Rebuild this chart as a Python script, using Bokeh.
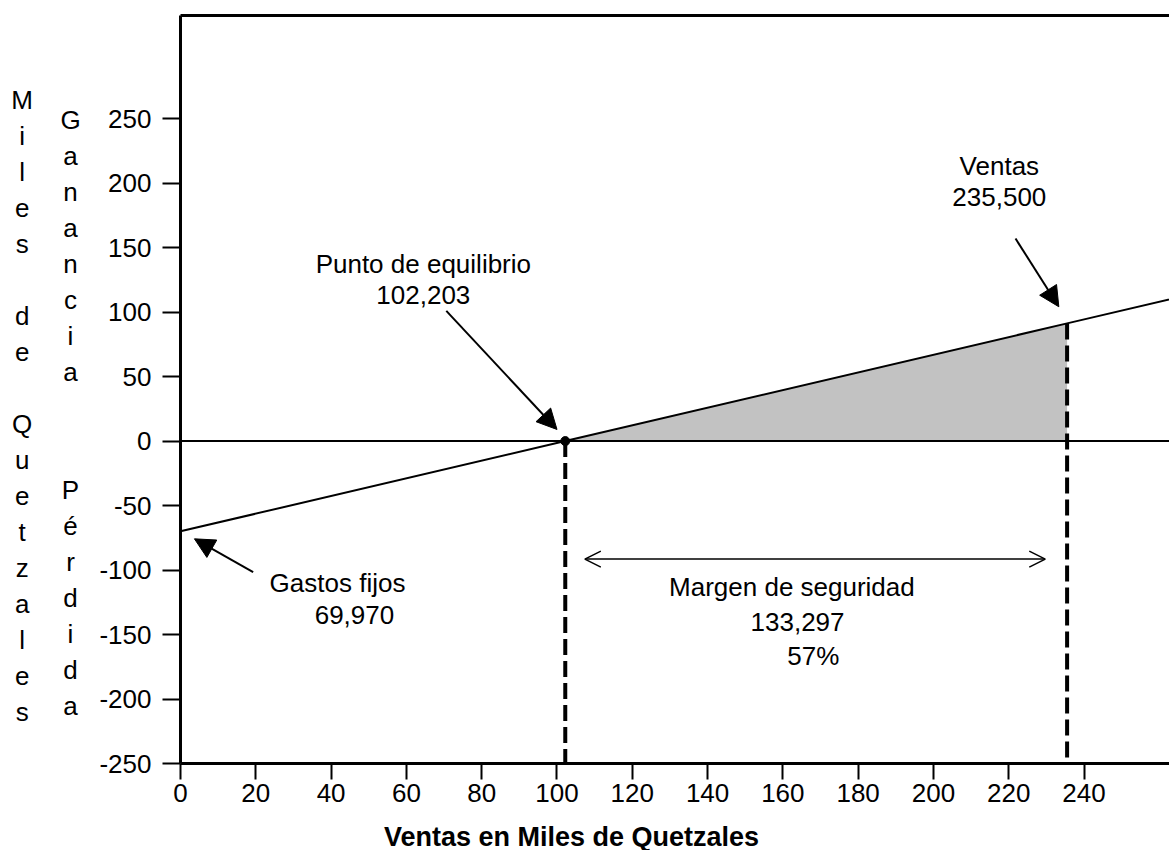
from bokeh.plotting import figure
from bokeh.models import (Label, Arrow, NormalHead, OpenHead, FixedTicker,
                          LinearAxis, Range1d, Span)
from bokeh.layouts import row, column
from bokeh.core.properties import value
from bokeh.embed import file_html
from bokeh.resources import INLINE

# ---------------- data (miles de quetzales) ----------------
fixed_costs = 69.970
break_even = 102.203
sales = 235.500
safety_margin = 133.297
safety_pct = "57%"

# profit line (ventas -> ganancia / pérdida)
line_sales = [0.0, 102.203, 235.5, 265.0]
line_profit = [-69.97, 0.0, 91.26, 111.45]
profit_at_sales = 91.26

# shaded profit area
shade_x = [102.203, 235.5, 235.5]
shade_y = [0.0, 91.26, 0.0]

x_ticks = [0, 20, 40, 60, 80, 100, 120, 140, 160, 180, 200, 220, 240]
y_ticks = [-250, -200, -150, -100, -50, 0, 50, 100, 150, 200, 250]

x_title = "Ventas en Miles de Quetzales"
y_title_outer = "Miles de Quetzales"
y_title_gain = "Ganancia"
y_title_loss = "Pérdida"

FONT = "Liberation Sans"
FS = "26px"

MAIN_H = 815
TOP_B = 15
BOT_B = MAIN_H - 763

# ---------------- main chart ----------------
p = figure(width=1079, height=MAIN_H, x_range=Range1d(0, 262.7),
           y_range=Range1d(-250, 330), output_backend="svg",
           toolbar_location=None, min_border_left=90, min_border_right=0,
           min_border_top=TOP_B, min_border_bottom=BOT_B,
           background_fill_color="white", border_fill_color="white",
           outline_line_color=None)
p.grid.visible = False

xa = p.xaxis[0]
xa.ticker = FixedTicker(ticks=x_ticks)
ya = p.yaxis[0]
ya.ticker = FixedTicker(ticks=y_ticks)
ya.major_label_overrides = {t: str(t) for t in y_ticks}
for ax in (xa, ya):
    ax.axis_line_width = 3
    ax.axis_line_color = "black"
    ax.major_tick_line_width = 2
    ax.major_tick_line_color = "black"
    ax.major_tick_in = 0
    ax.minor_tick_line_color = None
    ax.major_label_text_font = FONT
    ax.major_label_text_font_size = FS
    ax.major_label_text_color = "black"
xa.major_tick_out = 16
xa.major_label_standoff = 4
ya.major_tick_out = 18
ya.major_label_standoff = 11

top = LinearAxis(ticker=FixedTicker(ticks=[]), axis_line_width=3,
                 axis_line_color="black", major_tick_out=0, major_tick_in=0,
                 minor_tick_line_color=None, major_label_text_font_size="0px")
p.add_layout(top, "above")

p.patch(shade_x, shade_y, fill_color="#c2c2c2", line_color=None)
p.add_layout(Span(location=0, dimension="width", line_color="black", line_width=2))
p.line(line_sales, line_profit, line_color="black", line_width=2)
p.segment(x0=[break_even, sales], y0=[0, profit_at_sales],
          x1=[break_even, sales], y1=[-250, -250],
          line_color="black", line_width=4, line_dash="16 6")
p.scatter([break_even], [0], size=9, color="black")

def lab(x, y, t, size=FS, style="normal"):
    p.add_layout(Label(x=x, y=y, text=t, text_font=FONT, text_font_size=size,
                       text_font_style=style, text_align="center",
                       text_baseline="middle", text_color="black"))

lab(64.5, 137.7, "Punto de equilibrio")
lab(64.5, 112.9, "102,203")
p.add_layout(Arrow(x_start=break_even - 31.6, y_start=101, x_end=break_even - 2.2, y_end=9,
                   line_width=2, end=NormalHead(size=20, fill_color="black", line_color="black")))

lab(217.5, 213.6, "Ventas")
lab(217.5, 189.1, "235,500")
p.add_layout(Arrow(x_start=sales - 13.7, y_start=profit_at_sales + 65.8,
                   x_end=sales - 2.2, y_end=profit_at_sales + 12.9,
                   line_width=2, end=NormalHead(size=20, fill_color="black", line_color="black")))

lab(41.7, -110.4, "Gastos fijos")
lab(46.2, -135.2, "69,970")
p.add_layout(Arrow(x_start=19.3, y_start=-101.7, x_end=3.7, y_end=-75.8,
                   line_width=2, end=NormalHead(size=20, fill_color="black", line_color="black")))

p.add_layout(Arrow(x_start=break_even + 5.2, y_start=-91.5, x_end=sales - 5.8, y_end=-91.5,
                   line_width=1.5,
                   start=OpenHead(size=16, line_width=1.5, line_color="black"),
                   end=OpenHead(size=16, line_width=1.5, line_color="black")))
lab(162.4, -113.5, "Margen de seguridad")
lab(163.9, -139.9, "133,297")
lab(168.1, -166.3, safety_pct)

# ---------------- left strip with stacked letters (shares the y scale) ----------------
left = figure(width=90, height=MAIN_H, x_range=Range1d(0, 90),
              y_range=p.y_range, output_backend="svg", toolbar_location=None,
              x_axis_location=None, y_axis_location=None,
              min_border_left=0, min_border_right=0,
              min_border_top=TOP_B, min_border_bottom=BOT_B,
              outline_line_color=None)
left.grid.visible = False
step = 27.91   # one letter row, in y units
lx, ly, lt = [], [], []
for k, ch in enumerate(y_title_outer):
    if ch != " ":
        lx.append(21.7); ly.append(264.1 - step * k); lt.append(ch)
for k, ch in enumerate(y_title_gain):
    lx.append(70); ly.append(248.6 - step * k); lt.append(ch)
for k, ch in enumerate(y_title_loss):
    lx.append(70); ly.append(-38.3 - step * k); lt.append(ch)
left.text(x=lx, y=ly, text=lt, text_font=value(FONT), text_font_size=value(FS),
          text_align="center", text_baseline="middle", text_color="black")

# ---------------- bottom strip with the x title ----------------
bottom = figure(width=1169, height=850 - MAIN_H, x_range=Range1d(0, 1169),
                y_range=Range1d(850, MAIN_H), output_backend="svg",
                toolbar_location=None, x_axis_location=None, y_axis_location=None,
                min_border_left=0, min_border_right=0, min_border_top=0,
                min_border_bottom=0, outline_line_color=None)
bottom.grid.visible = False
bottom.text(x=[571], y=[836], text=[x_title], text_font=value(FONT),
            text_font_size=value("27px"), text_font_style="bold",
            text_align="center", text_baseline="middle", text_color="black")

layout = column(row(left, p), bottom)
open("out.html", "w").write(file_html(layout, INLINE))
